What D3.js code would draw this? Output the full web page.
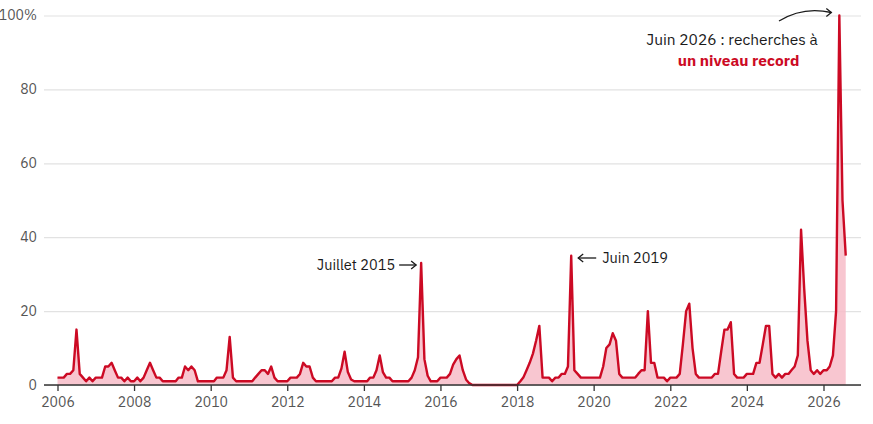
<!DOCTYPE html>
<html>
<head>
<meta charset="utf-8">
<script src="https://cdn.jsdelivr.net/npm/d3@7"></script>
<style>
  body { margin: 0; background: #fff; }
  svg { display: block; font-family: 'IBM Plex Sans', 'Noto Sans', sans-serif; }
</style>
</head>
<body>
<div id="chart"></div>
<script>
// monthly search interest, Jan 2006 -> Aug 2026 (100 = peak)
const firstMonth = new Date(2006, 0, 1)
const searchIndex = [
  2, 2, 2, 3, 3, 4, 15, 3, 2, 1, 2, 1, // 2006
  2, 2, 2, 5, 5, 6, 4, 2, 2, 1, 2, 1, // 2007
  1, 2, 1, 2, 4, 6, 4, 2, 2, 1, 1, 1, // 2008
  1, 1, 2, 2, 5, 4, 5, 4, 1, 1, 1, 1, // 2009
  1, 1, 2, 2, 2, 4, 13, 2, 1, 1, 1, 1, // 2010
  1, 1, 2, 3, 4, 4, 3, 5, 2, 1, 1, 1, // 2011
  1, 2, 2, 2, 3, 6, 5, 5, 2, 1, 1, 1, // 2012
  1, 1, 1, 2, 2, 4.5, 9, 3.5, 1.5, 1, 1, 1, // 2013
  1, 1, 2, 2, 4, 8, 3.5, 2, 2, 1, 1, 1, // 2014
  1, 1, 1, 2, 4, 7.5, 33, 7, 2.5, 1, 1, 1, // 2015
  2, 2, 2, 3, 5.5, 7, 8, 4, 1.5, 0.5, 0, 0, // 2016
  0, 0, 0, 0, 0, 0, 0, 0, 0, 0, 0, 0, // 2017
  0, 1, 2, 4, 6, 8.5, 12, 16, 2, 2, 2, 1, // 2018
  2, 2, 3, 3, 5, 35, 4, 3, 2, 2, 2, 2, // 2019
  2, 2, 2, 5, 10, 11, 14, 12, 3, 2, 2, 2, // 2020
  2, 2, 3, 4, 4, 20, 6, 6, 2, 2, 2, 1, // 2021
  2, 2, 2, 3, 11, 20, 22, 10, 3, 2, 2, 2, // 2022
  2, 2, 3, 3, 9, 15, 15, 17, 3, 2, 2, 2, // 2023
  3, 3, 3, 6, 6, 11, 16, 16, 3, 2, 3, 2, // 2024
  3, 3, 4, 5, 8, 42, 26, 12, 4, 3, 4, 3, // 2025
  4, 4, 5, 8, 20, 100, 50, 35 // 2026
]
const yTicks = [0, 20, 40, 60, 80, 100]
const xTickYears = [2006, 2008, 2010, 2012, 2014, 2016, 2018, 2020, 2022, 2024, 2026]

const width = 873
const height = 424
const red = '#cc0a24'

const datapoints = searchIndex.map((v, i) => ({
  date: d3.timeMonth.offset(firstMonth, i),
  value: v
}))

const svg = d3.select('#chart')
  .append('svg')
  .attr('width', width)
  .attr('height', height)

const xPositionScale = d3.scaleTime()
  .domain([new Date(2006, 0, 1), new Date(2026, 0, 1)])
  .range([57.5, 823.5])
const yPositionScale = d3.scaleLinear()
  .domain([0, 100])
  .range([385, 15.5])

// gridlines + y labels
const yAxis = d3.axisLeft(yPositionScale)
  .tickValues(yTicks)
  .tickSize(-(861 - 44))
  .tickPadding(7)
  .tickFormat(d => (d === 100 ? '100%' : d))

svg.append('g')
  .attr('class', 'axis y-axis')
  .attr('transform', 'translate(44,0)')
  .call(yAxis)
  .call(g => g.select('.domain').remove())
  .call(g => g.selectAll('.tick line').attr('stroke', '#e2e2e2').attr('stroke-width', 1.2))
  .call(g => g.selectAll('.tick text')
    .attr('fill', '#555')
    .attr('font-size', 14)
    .attr('font-family', "'IBM Plex Sans', 'Noto Sans', sans-serif"))

// area + line
const area = d3.area()
  .x(d => xPositionScale(d.date))
  .y0(yPositionScale(0))
  .y1(d => yPositionScale(d.value))

const line = d3.line()
  .x(d => xPositionScale(d.date))
  .y(d => yPositionScale(d.value))

svg.append('path')
  .datum(datapoints)
  .attr('d', area)
  .attr('fill', '#f7bcc8')
  .attr('opacity', 0.85)

svg.append('path')
  .datum(datapoints)
  .attr('d', line)
  .attr('fill', 'none')
  .attr('stroke', red)
  .attr('stroke-width', 2.4)
  .attr('stroke-linejoin', 'round')

// x axis
const xAxis = d3.axisBottom(xPositionScale)
  .tickValues(xTickYears.map(y => new Date(y, 0, 1)))
  .tickSize(6)
  .tickPadding(6)
  .tickFormat(d3.timeFormat('%Y'))

svg.append('g')
  .attr('class', 'axis x-axis')
  .attr('transform', 'translate(0,' + yPositionScale(0) + ')')
  .call(xAxis)
  .call(g => g.select('.domain').remove())
  .call(g => g.selectAll('.tick line').attr('stroke', '#333').attr('stroke-width', 1.3))
  .call(g => g.selectAll('.tick text')
    .attr('fill', '#555')
    .attr('font-size', 14)
    .attr('font-family', "'IBM Plex Sans', 'Noto Sans', sans-serif"))

svg.append('line')
  .attr('x1', 44)
  .attr('x2', 861)
  .attr('y1', yPositionScale(0))
  .attr('y2', yPositionScale(0))
  .attr('stroke', '#333')
  .attr('stroke-width', 1.5)

// annotations
const note = svg.append('g')
  .attr('font-size', 14.5)
  .attr('fill', '#1a1a1a')

function arrowHead(g, x, y, dir) {
  g.append('path')
    .attr('d', `M${x - dir * 5},${y - 4} L${x},${y} L${x - dir * 5},${y + 4}`)
    .attr('fill', 'none')
    .attr('stroke', '#1a1a1a')
    .attr('stroke-width', 1.3)
}

const jul2015 = datapoints.find(d => d.date.getFullYear() === 2015 && d.date.getMonth() === 6)
const jun2019 = datapoints.find(d => d.date.getFullYear() === 2019 && d.date.getMonth() === 5)
const jun2026 = datapoints.find(d => d.date.getFullYear() === 2026 && d.date.getMonth() === 5)

note.append('text')
  .attr('x', xPositionScale(jul2015.date) - 26)
  .attr('y', 269.5)
  .attr('text-anchor', 'end')
  .text('Juillet 2015')
note.append('line')
  .attr('x1', xPositionScale(jul2015.date) - 22)
  .attr('x2', xPositionScale(jul2015.date) - 5)
  .attr('y1', 265)
  .attr('y2', 265)
  .attr('stroke', '#1a1a1a')
  .attr('stroke-width', 1.3)
arrowHead(note, xPositionScale(jul2015.date) - 5, 265, 1)

note.append('line')
  .attr('x1', xPositionScale(jun2019.date) + 7)
  .attr('x2', xPositionScale(jun2019.date) + 25)
  .attr('y1', 258)
  .attr('y2', 258)
  .attr('stroke', '#1a1a1a')
  .attr('stroke-width', 1.3)
arrowHead(note, xPositionScale(jun2019.date) + 7, 258, -1)
note.append('text')
  .attr('x', xPositionScale(jun2019.date) + 31)
  .attr('y', 263)
  .text('Juin 2019')

const px = xPositionScale(jun2026.date)
note.append('path')
  .attr('d', `M779,21 Q803,6 ${px - 8},12.5`)
  .attr('fill', 'none')
  .attr('stroke', '#1a1a1a')
  .attr('stroke-width', 1.3)
arrowHead(note, px - 8, 12.5, 1)

note.append('text')
  .attr('x', 732)
  .attr('y', 45)
  .attr('text-anchor', 'middle')
  .attr('font-size', 15.5)
  .text('Juin 2026 : recherches à')
note.append('text')
  .attr('x', 738.5)
  .attr('y', 65.5)
  .attr('text-anchor', 'middle')
  .attr('font-size', 15.5)
  .attr('font-weight', 700)
  .attr('fill', red)
  .text('un niveau record')
</script>
</body>
</html>
